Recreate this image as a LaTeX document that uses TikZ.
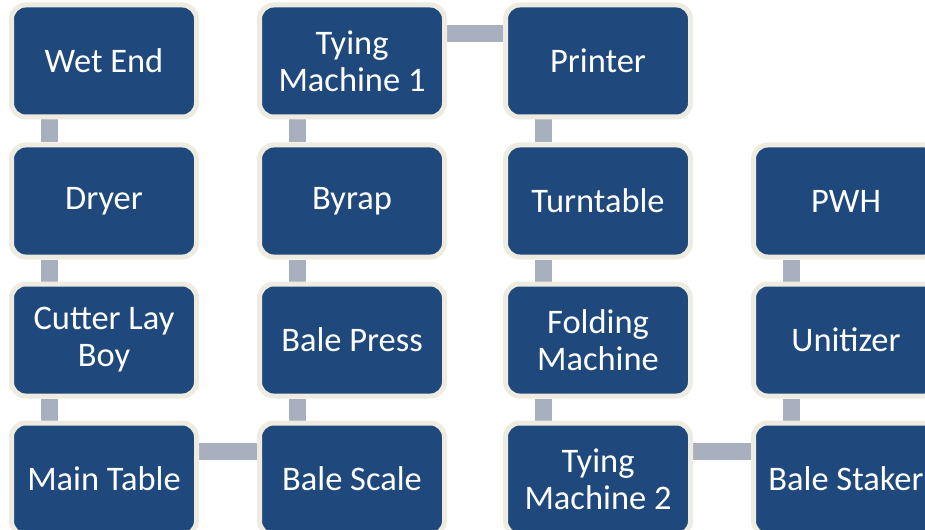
\documentclass[tikz,border=0pt]{standalone}
\usepackage{fontspec}
\setmainfont{Carlito}
\usetikzlibrary{backgrounds}

\definecolor{boxblue}{RGB}{31,73,125}
\definecolor{boxrim}{RGB}{238,236,225}
\definecolor{linkgray}{RGB}{168,175,190}

\begin{document}
\begin{tikzpicture}[x=0.02cm,y=-0.02cm]
	\tikzset{
		block/.style={rectangle, rounded corners=8, fill=boxblue, draw=boxrim,
			line width=5*0.02cm, minimum width=185*0.02cm, minimum height=112*0.02cm,
			inner sep=0pt, align=center, text=white,
			font=\fontsize{19.6pt}{21pt}\selectfont},
		link/.style={draw=linkgray, line width=17*0.02cm},
	}
	\useasboundingbox (0,0) rectangle (925,530);
	% first column
	\node[block] (wetend) at (104,61) {Wet End};
	\node[block] (dryer) at (104,201) {Dryer};
	\node[block] (cutter) at (104,340) {Cutter Lay\\Boy};
	\node[block] (maintable) at (104,479) {Main Table};
	% second column
	\node[block] (tying1) at (352,61) {Tying\\Machine 1};
	\node[block] (byrap) at (352,201) {Byrap};
	\node[block] (press) at (352,340) {Bale Press};
	\node[block] (scale) at (352,479) {Bale Scale};
	% third column
	\node[block] (printer) at (598,61) {Printer};
	\node[block] (turntable) at (598,201) {Turntable};
	\node[block] (folding) at (598,340) {Folding\\Machine};
	\node[block] (tying2) at (598,479) {Tying\\Machine 2};
	% fourth column
	\node[block] (pwh) at (846,201) {PWH};
	\node[block] (unitizer) at (846,340) {Unitizer};
	\node[block] (staker) at (846,479) {Bale Staker};

	\begin{scope}[on background layer]
		\draw[link] ([xshift=-55*0.02cm]wetend.south) -- ([xshift=-55*0.02cm]dryer.north);
		\draw[link] ([xshift=-55*0.02cm]dryer.south) -- ([xshift=-55*0.02cm]cutter.north);
		\draw[link] ([xshift=-55*0.02cm]cutter.south) -- ([xshift=-55*0.02cm]maintable.north);
		\draw[link] ([yshift=27.5*0.02cm]maintable.east) -- ([yshift=27.5*0.02cm]scale.west);
		\draw[link] ([xshift=-55*0.02cm]scale.north) -- ([xshift=-55*0.02cm]press.south);
		\draw[link] ([xshift=-55*0.02cm]press.north) -- ([xshift=-55*0.02cm]byrap.south);
		\draw[link] ([xshift=-55*0.02cm]byrap.north) -- ([xshift=-55*0.02cm]tying1.south);
		\draw[link] ([yshift=27.5*0.02cm]tying1.east) -- ([yshift=27.5*0.02cm]printer.west);
		\draw[link] ([xshift=-55*0.02cm]printer.south) -- ([xshift=-55*0.02cm]turntable.north);
		\draw[link] ([xshift=-55*0.02cm]turntable.south) -- ([xshift=-55*0.02cm]folding.north);
		\draw[link] ([xshift=-55*0.02cm]folding.south) -- ([xshift=-55*0.02cm]tying2.north);
		\draw[link] ([yshift=27.5*0.02cm]tying2.east) -- ([yshift=27.5*0.02cm]staker.west);
		\draw[link] ([xshift=-55*0.02cm]staker.north) -- ([xshift=-55*0.02cm]unitizer.south);
		\draw[link] ([xshift=-55*0.02cm]unitizer.north) -- ([xshift=-55*0.02cm]pwh.south);
	\end{scope}
\end{tikzpicture}
\end{document}
